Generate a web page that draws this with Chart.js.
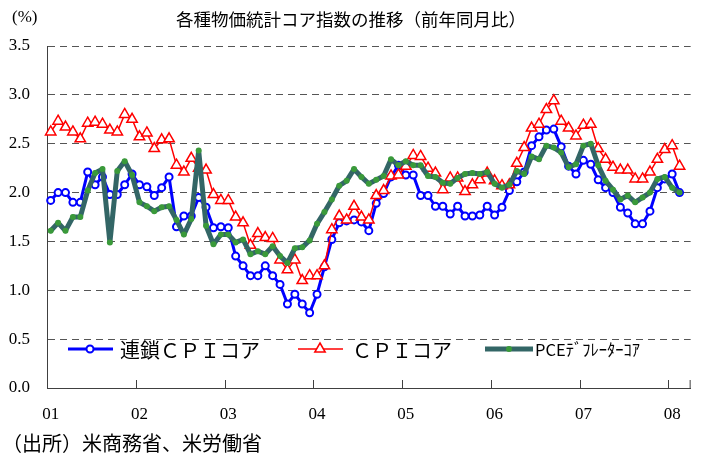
<!DOCTYPE html>
<html lang="ja">
<head>
<meta charset="utf-8">
<title>各種物価統計コア指数の推移</title>
<script src="https://cdn.jsdelivr.net/npm/chart.js@4.4.0/dist/chart.umd.min.js"></script>
<style>
  html, body { margin: 0; padding: 0; background: #fff; }
  #wrap { width: 703px; height: 457px; }
</style>
</head>
<body>
<div id="wrap"><canvas id="coreChart" width="703" height="457"></canvas></div>
<script>
// 年ラベル（各年1月の位置に表示）
const yearLabels = ['01', '02', '03', '04', '05', '06', '07', '08'];
const yTicks = [0, 0.5, 1.0, 1.5, 2.0, 2.5, 3.0, 3.5];

// 2001年1月〜2008年2月（前年同月比, %）
const chainCpiCore = [
  1.92, 2.00, 2.00, 1.90, 1.90, 2.21, 2.08, 2.16, 1.98, 1.98, 2.08, 2.19,
  2.08, 2.06, 1.97, 2.05, 2.16, 1.65, 1.76, 1.76, 1.95, 1.85, 1.64, 1.65,
  1.64, 1.35, 1.25, 1.15, 1.15, 1.25, 1.15, 1.06, 0.86, 0.96, 0.86, 0.77,
  0.96, 1.24, 1.52, 1.69, 1.71, 1.72, 1.70, 1.61, 1.89, 1.99, 2.16, 2.28,
  2.18, 2.18, 1.97, 1.97, 1.86, 1.86, 1.78, 1.86, 1.76, 1.76, 1.77, 1.86,
  1.77, 1.85, 2.02, 2.11, 2.21, 2.48, 2.57, 2.64, 2.65, 2.47, 2.27, 2.19,
  2.33, 2.29, 2.13, 2.05, 2.00, 1.85, 1.79, 1.68, 1.68, 1.81, 2.05, 2.14,
  2.19, 2.00
];
const cpiCore = [
  2.62, 2.73, 2.67, 2.62, 2.55, 2.71, 2.72, 2.70, 2.64, 2.62, 2.80, 2.75,
  2.57, 2.61, 2.45, 2.54, 2.55, 2.28, 2.21, 2.35, 2.25, 2.23, 1.98, 1.92,
  1.92, 1.75, 1.69, 1.46, 1.58, 1.54, 1.53, 1.31, 1.21, 1.31, 1.10, 1.15,
  1.15, 1.25, 1.62, 1.76, 1.72, 1.86, 1.75, 1.72, 1.97, 2.02, 2.17, 2.18,
  2.27, 2.38, 2.37, 2.25, 2.20, 2.03, 2.15, 2.15, 2.01, 2.08, 2.13, 2.20,
  2.12, 2.07, 2.08, 2.30, 2.46, 2.66, 2.70, 2.85, 2.94, 2.73, 2.66, 2.58,
  2.69, 2.70, 2.45, 2.34, 2.26, 2.23, 2.23, 2.14, 2.14, 2.21, 2.34, 2.44,
  2.48, 2.27
];
const pceCore = [
  1.61, 1.69, 1.61, 1.75, 1.75, 2.02, 2.20, 2.24, 1.49, 2.22, 2.32, 2.18,
  1.90, 1.86, 1.81, 1.85, 1.86, 1.72, 1.57, 1.73, 2.43, 1.66, 1.47, 1.57,
  1.57, 1.49, 1.52, 1.37, 1.40, 1.37, 1.45, 1.35, 1.28, 1.43, 1.44, 1.51,
  1.68, 1.80, 1.93, 2.07, 2.12, 2.24, 2.16, 2.09, 2.13, 2.17, 2.34, 2.28,
  2.32, 2.28, 2.28, 2.17, 2.16, 2.10, 2.09, 2.15, 2.19, 2.20, 2.19, 2.21,
  2.09, 2.05, 2.08, 2.22, 2.19, 2.37, 2.34, 2.48, 2.46, 2.41, 2.26, 2.29,
  2.48, 2.50, 2.28, 2.12, 2.03, 1.93, 1.97, 1.90, 1.95, 2.00, 2.14, 2.16,
  2.05, 2.00
];

// 月カテゴリ（軸は2008年3月まで）
const categories = [];
yearLabels.forEach(y => {
  for (let m = 1; m <= 12; m++) {
    if (y === '08' && m > 3) break;
    categories.push(y + '/' + String(m).padStart(2, '0'));
  }
});

const serif = '"Liberation Serif", "DejaVu Serif", serif';
const jp = '"Noto Sans CJK JP", sans-serif';

/* 年の区切り目盛（軸から上向き）とテキスト類 */
const decoPlugin = {
  id: 'deco',
  afterDraw(chart) {
    const { ctx, chartArea } = chart;
    const xs = chart.scales.x;
    const half = (xs.getPixelForValue(1) - xs.getPixelForValue(0)) / 2;
    ctx.save();
    ctx.strokeStyle = '#404040';
    ctx.lineWidth = 1;
    for (let i = 12; i < categories.length; i += 12) {
      const px = Math.round(xs.getPixelForValue(i) - half) + 0.5;
      ctx.beginPath();
      ctx.moveTo(px, chartArea.bottom);
      ctx.lineTo(px, chartArea.bottom - 8);
      ctx.stroke();
    }
    ctx.beginPath();
    ctx.moveTo(chartArea.right - 0.5, chartArea.bottom);
    ctx.lineTo(chartArea.right - 0.5, chartArea.bottom - 8);
    ctx.stroke();

    ctx.fillStyle = '#000';
    ctx.textBaseline = 'middle';
    ctx.font = '17.5px ' + jp;
    ctx.textAlign = 'center';
    ctx.fillText('各種物価統計コア指数の推移（前年同月比）', 351, 19);
    ctx.textAlign = 'left';
    ctx.font = '17px ' + serif;
    ctx.fillText('(%)', 12, 18);
    ctx.font = '20px ' + jp;
    ctx.fillText('（出所）米商務省、米労働省', 2, 443);

    // 凡例
    const ly = 349;
    ctx.lineCap = 'butt';
    ctx.strokeStyle = '#0000ff';
    ctx.lineWidth = 3;
    ctx.beginPath(); ctx.moveTo(68, ly); ctx.lineTo(113, ly); ctx.stroke();
    ctx.fillStyle = '#fff';
    ctx.lineWidth = 2;
    ctx.beginPath(); ctx.arc(90, ly, 3.5, 0, Math.PI * 2); ctx.fill(); ctx.stroke();

    ctx.strokeStyle = '#ff0000';
    ctx.lineWidth = 1.5;
    ctx.beginPath(); ctx.moveTo(298, ly); ctx.lineTo(343, ly); ctx.stroke();
    ctx.beginPath();
    ctx.moveTo(320, ly - 6); ctx.lineTo(325.2, ly + 3); ctx.lineTo(314.8, ly + 3); ctx.closePath();
    ctx.fill(); ctx.stroke();

    ctx.strokeStyle = '#336666';
    ctx.lineWidth = 5;
    ctx.beginPath(); ctx.moveTo(485, ly); ctx.lineTo(533, ly); ctx.stroke();
    ctx.fillStyle = '#3a9a3a';
    ctx.beginPath(); ctx.arc(509, ly, 3, 0, Math.PI * 2); ctx.fill();

    ctx.fillStyle = '#000';
    ctx.font = '20px ' + jp;
    ctx.fillText('連鎖ＣＰＩコア', 120, ly + 1);
    ctx.fillText('ＣＰＩコア', 352, ly + 1);
    ctx.font = '16.5px ' + jp;
    ctx.fillText('PCEﾃﾞﾌﾚｰﾀｰｺｱ', 535, ly + 1);
    ctx.restore();
  }
};

const chart = new Chart(document.getElementById('coreChart'), {
  type: 'line',
  data: {
    labels: categories,
    datasets: [
      {
        label: '連鎖ＣＰＩコア',
        data: chainCpiCore,
        borderColor: '#0000ff',
        borderWidth: 3,
        borderJoinStyle: 'round',
        pointStyle: 'circle',
        pointRadius: 3.5,
        pointBorderWidth: 2,
        pointBackgroundColor: '#ffffff',
        pointBorderColor: '#0000ff',
        tension: 0,
        order: 2
      },
      {
        label: 'ＣＰＩコア',
        data: cpiCore,
        borderColor: '#ff0000',
        borderWidth: 1.5,
        pointStyle: 'triangle',
        pointRadius: 6,
        pointBorderWidth: 1.5,
        pointBackgroundColor: '#ffffff',
        pointBorderColor: '#ff0000',
        tension: 0,
        order: 1
      },
      {
        label: 'PCEﾃﾞﾌﾚｰﾀｰｺｱ',
        data: pceCore,
        borderColor: '#336666',
        borderWidth: 5,
        borderJoinStyle: 'round',
        borderCapStyle: 'round',
        pointStyle: 'circle',
        pointRadius: 3,
        pointBorderWidth: 0,
        pointBackgroundColor: '#3a9a3a',
        tension: 0,
        order: 0
      }
    ]
  },
  options: {
    responsive: false,
    animation: false,
    devicePixelRatio: 1,
    layout: { padding: { top: 46, right: 6, bottom: 0, left: 0 } },
    plugins: {
      legend: { display: false },
      title: { display: false },
      tooltip: { enabled: false }
    },
    scales: {
      x: {
        type: 'category',
        offset: true,
        grid: { display: false, drawTicks: false },
        border: { display: true, color: '#404040', width: 1 },
        ticks: {
          autoSkip: false,
          maxRotation: 0,
          minRotation: 0,
          padding: 16,
          color: '#000',
          font: { family: serif, size: 17 },
          callback: (v, i) => (i % 12 === 0 ? yearLabels[i / 12] : '')
        },
        afterFit: s => { s.height = 69; }
      },
      y: {
        min: yTicks[0],
        max: yTicks[yTicks.length - 1],
        afterBuildTicks: s => { s.ticks = yTicks.map(v => ({ value: v })); },
        grid: {
          color: c => (c.tick && c.tick.value === 0 ? 'rgba(0,0,0,0)' : '#555555'),
          lineWidth: 1,
          drawTicks: false
        },
        border: { display: true, color: '#404040', width: 1, dash: [7, 5] },
        ticks: {
          padding: 17,
          color: '#000',
          font: { family: serif, size: 17 },
          callback: v => Number(v).toFixed(1)
        },
        afterFit: s => { s.width = 47; }
      }
    }
  },
  plugins: [decoPlugin]
});
</script>
</body>
</html>
